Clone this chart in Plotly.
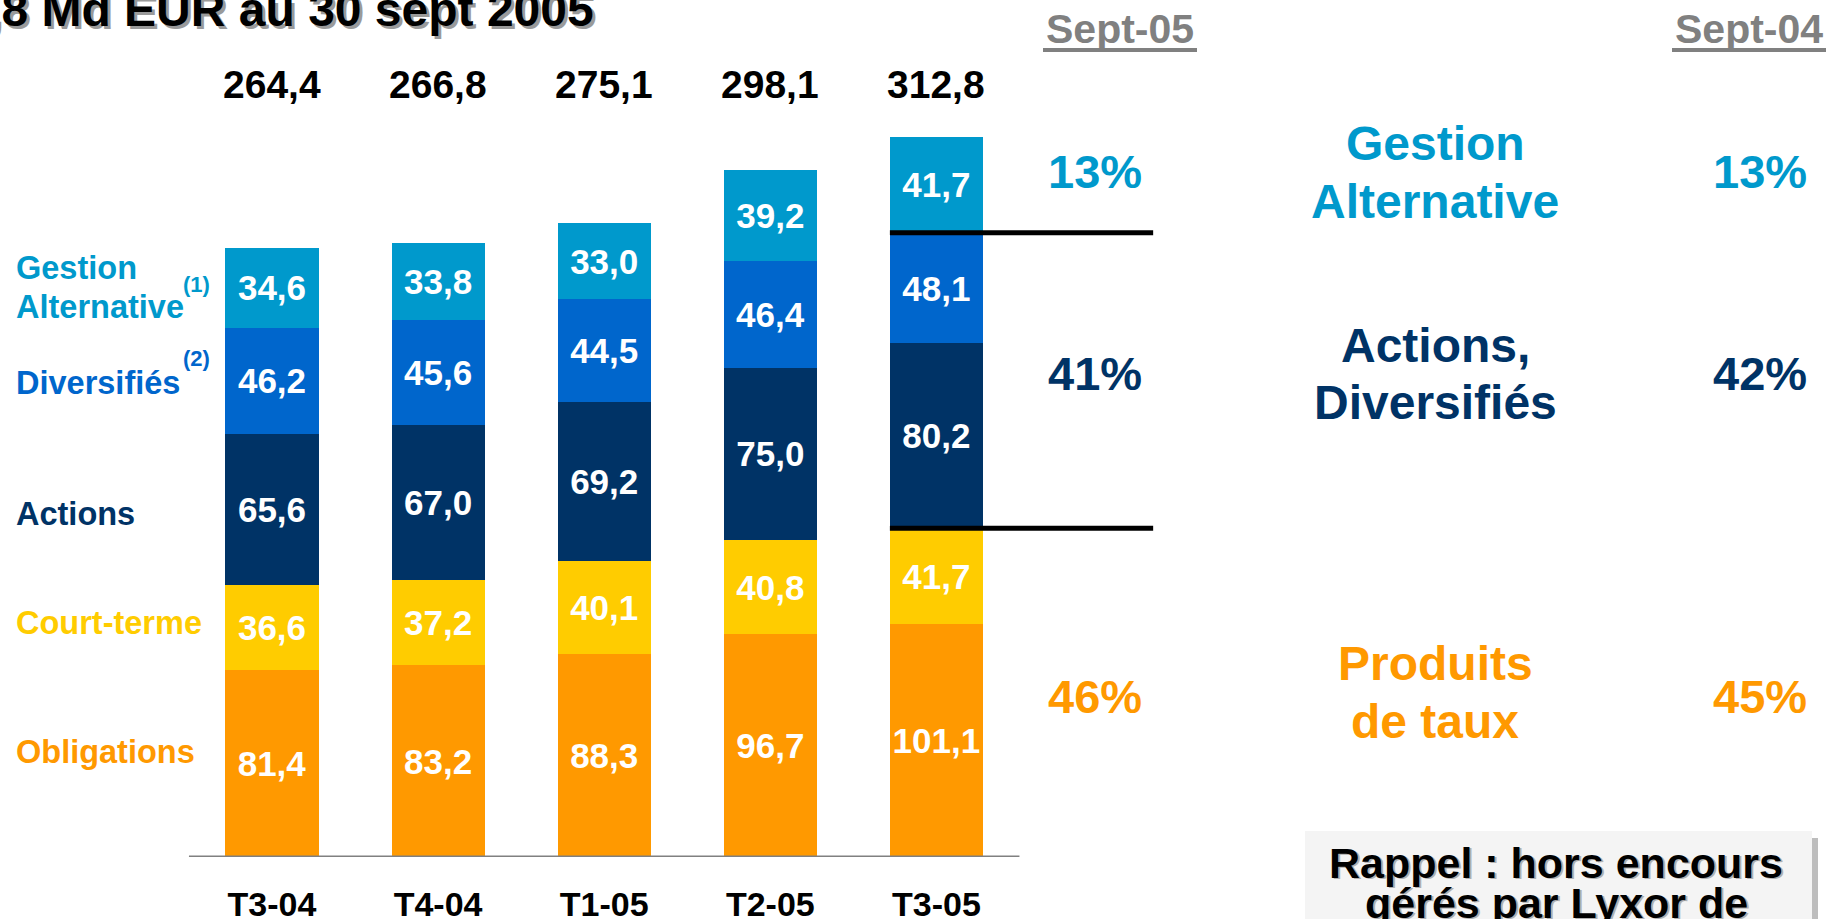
import plotly.graph_objects as go

# ---------------- data ----------------
categories = ["T3-04", "T4-04", "T1-05", "T2-05", "T3-05"]
obligations = [81.4, 83.2, 88.3, 96.7, 101.1]
court_terme = [36.6, 37.2, 40.1, 40.8, 41.7]
actions = [65.6, 67.0, 69.2, 75.0, 80.2]
diversifies = [46.2, 45.6, 44.5, 46.4, 48.1]
gestion_alt = [34.6, 33.8, 33.0, 39.2, 41.7]

series_names = ["Obligations", "Court-terme", "Actions", "Diversifiés", "Gestion Alternative"]
series_values = [obligations, court_terme, actions, diversifies, gestion_alt]

groups_right = ["Gestion<br>Alternative", "Actions,<br>Diversifiés", "Produits<br>de taux"]
pct_sept05 = ["13%", "41%", "46%"]
pct_sept04 = ["13%", "42%", "45%"]
header_labels = ["Sept-05", "Sept-04"]
title_text = "312,8 Md EUR au 30 sept 2005"
note_lines = ["Rappel : hors encours", "gérés par Lyxor de"]

# ---------------- styling ----------------
W, H = 1841, 919
PLOT_B = 62
PLOT_H = H - PLOT_B
FONT = "Liberation Sans, Arial, Helvetica, sans-serif"
C_GA = "#0099CC"
C_DIV = "#0066CC"
C_ACT = "#003366"
C_CT = "#FFCC00"
C_OBL = "#FF9900"
series_colors = [C_OBL, C_CT, C_ACT, C_DIV, C_GA]

x_idx = list(range(len(categories)))
totals = [round(sum(v[i] for v in series_values), 1) for i in x_idx]


def fmt(v):
    return f"{v:.1f}".replace(".", ",")


def px_x(px):
    return px / W


def px_y(py):
    return (PLOT_H - py) / PLOT_H


fig = go.Figure()
for name, vals, col in zip(series_names, series_values, series_colors):
    fig.add_trace(go.Bar(
        x=x_idx, y=vals, name=name, marker=dict(color=col, line=dict(width=0)),
        width=0.56, text=[fmt(v) for v in vals], textposition="inside",
        insidetextanchor="middle", constraintext="none", textangle=0,
        textfont=dict(family=FONT, size=35, color="white", weight="bold"),
        hoverinfo="skip",
    ))

annotations = []


def ann(text, xpx, ypx, size, color, xanchor="center", yanchor="middle", **kw):
    annotations.append(dict(
        text=text, x=px_x(xpx), y=px_y(ypx), xref="paper", yref="paper",
        xanchor=xanchor, yanchor=yanchor, showarrow=False,
        font=dict(family=FONT, size=size, color=color, weight="bold"), **kw))


# title (cut at left/top in reference) with shadow
ann(title_text, 599, 12, 48, "#9A9A9A", xanchor="right")
ann(title_text, 596, 9, 48, "black", xanchor="right")

# totals above bars
for i, t in enumerate(totals):
    annotations.append(dict(
        text=fmt(t), x=i, y=px_y(84), xref="x", yref="paper", showarrow=False,
        xanchor="center", yanchor="middle",
        font=dict(family=FONT, size=39, color="black", weight="bold")))

# left labels
ann("Gestion", 14, 268, 32.5, C_GA, xanchor="left")
ann("Alternative", 14, 307, 32.5, C_GA, xanchor="left")
ann("(1)", 181, 284, 22, C_GA, xanchor="left")
ann("Diversifiés", 14, 383, 32.5, C_DIV, xanchor="left")
ann("(2)", 181, 358, 22, C_DIV, xanchor="left")
ann("Actions", 14, 514, 32.5, C_ACT, xanchor="left")
ann("Court-terme", 14, 623, 32.5, C_CT, xanchor="left")
ann("Obligations", 14, 752, 32.5, C_OBL, xanchor="left")

# headers
ann(header_labels[0], 1120, 29, 41, "#808080")
ann(header_labels[1], 1749, 29, 41, "#808080")

# right side percentages and group labels
grp_colors = [C_GA, C_ACT, C_OBL]
pct_y = [172, 373, 696]
grp_line_y = [(143, 201), (345, 402), (663, 721)]
for k in range(3):
    ann(pct_sept05[k], 1095, pct_y[k], 47, grp_colors[k])
    ann(pct_sept04[k], 1760, pct_y[k], 47, grp_colors[k])
    l1, l2 = groups_right[k].split("<br>")
    ann(l1, 1435, grp_line_y[k][0], 48, grp_colors[k])
    ann(l2, 1435, grp_line_y[k][1], 48, grp_colors[k])

# note box text (with slight shadow)
for line, yy in zip(note_lines, [863, 903]):
    ann(line, 1558, yy + 1, 43, "#B0B0B0")
    ann(line, 1556, yy, 43, "black")

shapes = []
# baseline
shapes.append(dict(type="line", xref="x", yref="y", x0=-0.5, x1=len(categories) - 0.5,
                   y0=0, y1=0, line=dict(color="#808080", width=3)))
# separators on last bar
last = len(categories) - 1
sep_vals = [totals[last] - gestion_alt[last], obligations[last] + court_terme[last]]
for sv in sep_vals:
    shapes.append(dict(type="line", xref="x", yref="y", x0=last - 0.28, x1=5.305,
                       y0=sv, y1=sv, line=dict(color="black", width=5)))
# header underlines
for a, b in [(1043, 1197), (1672, 1826)]:
    shapes.append(dict(type="line", xref="paper", yref="paper", x0=px_x(a), x1=px_x(b),
                       y0=px_y(50), y1=px_y(50), line=dict(color="#808080", width=4)))
# note box with shadow
shapes.append(dict(type="rect", xref="paper", yref="paper", x0=px_x(1812), x1=px_x(1818),
                   y0=px_y(838), y1=px_y(930), fillcolor="#BDBDBD", line=dict(width=0), layer="below"))
shapes.append(dict(type="rect", xref="paper", yref="paper", x0=px_x(1305), x1=px_x(1812),
                   y0=px_y(831), y1=px_y(930), fillcolor="#F4F4F4", line=dict(width=0), layer="below"))

x_left = -272 / 166.1
x_right = (W - 272) / 166.1

fig.update_layout(
    width=W, height=H, barmode="stack", showlegend=False,
    margin=dict(l=0, r=0, t=0, b=PLOT_B, pad=0, autoexpand=False),
    paper_bgcolor="white", plot_bgcolor="white",
    separators=", ",
    xaxis=dict(range=[x_left, x_right], tickmode="array", tickvals=x_idx, ticktext=categories,
               showgrid=False, zeroline=False, showline=False, ticks="outside", ticklen=17,
               tickcolor="rgba(0,0,0,0)", automargin=False,
               tickfont=dict(family=FONT, size=34, color="black", weight="bold")),
    yaxis=dict(range=[0, PLOT_H / 2.303], visible=False, showgrid=False, zeroline=False,
               automargin=False),
    annotations=annotations, shapes=shapes,
    font=dict(family=FONT),
)

fig.write_html("out.html", config={"displayModeBar": False},
               post_script="document.body.style.margin='0';document.body.style.overflow='hidden';")
